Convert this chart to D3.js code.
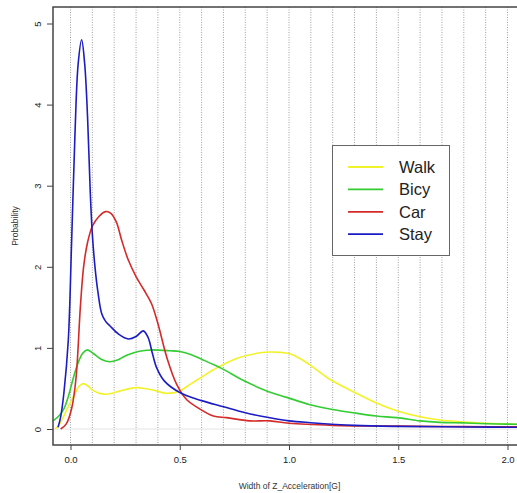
<!DOCTYPE html>
<html><head><meta charset="utf-8">
<script src="https://cdn.jsdelivr.net/npm/d3@7/dist/d3.min.js"></script>
<style>html,body{margin:0;padding:0;background:#fff;}svg{display:block;font-family:"Liberation Sans",Arial,sans-serif;}</style>
</head><body><svg id="c" width="517" height="493"></svg>
<script>
// ---- data ----
const seriesNames = ["Walk", "Bicy", "Car", "Stay"];
const seriesColors = ["#f2f22a", "#33cc33", "#d42a2a", "#1c1cc4"];

const walkX = [-0.07,-0.05,-0.025,0.0,0.021,0.04,0.059,0.08,0.1,0.15,0.19,0.227,0.303,0.34,0.379,0.44,0.5,0.547,0.6,0.654,0.76,0.867,0.913,0.96,1.0,1.05,1.096,1.188,1.294,1.4,1.493,1.6,1.69,1.8,1.9,2.0,2.1];
const walkY = [0.0,0.06,0.19,0.33,0.44,0.53,0.56,0.53,0.48,0.43,0.44,0.47,0.51,0.5,0.48,0.44,0.47,0.55,0.64,0.73,0.87,0.94,0.95,0.945,0.93,0.87,0.79,0.61,0.46,0.32,0.225,0.15,0.11,0.085,0.07,0.06,0.055];

const bicyX = [-0.08,-0.05,-0.03,-0.01,0.01,0.03,0.055,0.076,0.1,0.14,0.178,0.215,0.25,0.29,0.33,0.37,0.455,0.5,0.55,0.6,0.65,0.70,0.79,0.898,0.99,1.096,1.2,1.294,1.4,1.493,1.6,1.69,1.8,1.905,2.0,2.1];
const bicyY = [0.1,0.17,0.25,0.4,0.6,0.78,0.93,0.975,0.94,0.86,0.83,0.85,0.9,0.94,0.965,0.975,0.965,0.955,0.92,0.86,0.8,0.735,0.6,0.47,0.39,0.3,0.24,0.2,0.16,0.14,0.1,0.082,0.075,0.065,0.06,0.055];

const carX = [-0.045,-0.02,0.005,0.025,0.045,0.06,0.078,0.1,0.13,0.16,0.185,0.21,0.235,0.265,0.3,0.335,0.37,0.40,0.44,0.486,0.532,0.578,0.654,0.715,0.82,0.913,1.0,1.2,1.5,1.8,2.1];
const carY = [0.0,0.06,0.25,0.62,1.5,2.0,2.3,2.5,2.62,2.68,2.66,2.55,2.32,2.08,1.88,1.72,1.55,1.3,0.89,0.55,0.36,0.27,0.16,0.14,0.1,0.1,0.07,0.045,0.035,0.03,0.025];

const stayX = [-0.057,-0.045,-0.03,-0.01,0.005,0.02,0.035,0.051,0.065,0.078,0.09,0.1,0.112,0.125,0.143,0.16,0.181,0.22,0.265,0.3,0.333,0.355,0.375,0.395,0.43,0.5,0.6,0.7,0.8,0.9,1.0,1.1,1.3,1.5,1.8,2.1];
const stayY = [0.02,0.15,0.45,1.1,2.3,3.6,4.5,4.8,4.5,3.85,2.95,2.4,2.0,1.7,1.42,1.33,1.27,1.17,1.11,1.14,1.21,1.13,0.93,0.75,0.59,0.45,0.35,0.275,0.2,0.144,0.1,0.078,0.045,0.032,0.025,0.02];

const xTicks = [0, 0.5, 1, 1.5, 2];
const yTicks = [0, 1, 2, 3, 4, 5];
const gridX = d3.range(0, 22).map(i => i / 10);
const xLabel = "Width of Z_Acceleration[G]";
const yLabel = "Probability";

// ---- layout ----
const svg = d3.select("#c");
const L = 53, T = 7, B = 445, R = 530;
const x = d3.scaleLinear().domain([0, 2]).range([70.5, 507.5]);
const y = d3.scaleLinear().domain([0, 5]).range([429, 23.5]);

svg.append("defs").append("clipPath").attr("id", "clip")
  .append("rect").attr("x", L).attr("y", T).attr("width", R - L).attr("height", B - T);

const plot = svg.append("g").attr("clip-path", "url(#clip)");

// grid
plot.selectAll("line.gx").data(gridX).enter().append("line")
  .attr("x1", d => x(d)).attr("x2", d => x(d)).attr("y1", T).attr("y2", B)
  .attr("stroke", "#a0a0a0").attr("stroke-width", 1).attr("stroke-dasharray", "1,1.5");
plot.append("line").attr("x1", L).attr("x2", R).attr("y1", y(0)).attr("y2", y(0))
  .attr("stroke", "#e4e4e4").attr("stroke-width", 1);

// curves
const line = d3.line().x(d => x(d[0])).y(d => y(d[1])).curve(d3.curveCatmullRom.alpha(0.5));
const series = [[walkX, walkY], [bicyX, bicyY], [carX, carY], [stayX, stayY]];
series.forEach((s, i) => {
  const pts = s[0].map((v, j) => [v, s[1][j]]);
  plot.append("path").datum(pts).attr("d", line).attr("fill", "none")
    .attr("stroke", seriesColors[i]).attr("stroke-width", 1.6).attr("stroke-linejoin", "round");
});

// box
svg.append("path").attr("d", `M${R},${T}H${L}V${B}H${R}`).attr("fill", "none")
  .attr("stroke", "#444").attr("stroke-width", 1.5);

// axes
const xa = svg.append("g").attr("transform", `translate(0,${B})`)
  .call(d3.axisBottom(x).tickValues(xTicks).tickFormat(d3.format(".1f")).tickSize(5).tickPadding(6));
xa.select(".domain").remove();
xa.selectAll("line").attr("stroke", "#444");
xa.selectAll("text").attr("font-size", 9.5).attr("fill", "#222").attr("font-family", "Liberation Sans, Arial, sans-serif");

const ya = svg.append("g").attr("transform", `translate(${L},0)`)
  .call(d3.axisLeft(y).tickValues(yTicks).tickFormat(d3.format("d")).tickSize(6));
ya.select(".domain").remove();
ya.selectAll("line").attr("stroke", "#444");
ya.selectAll("text").attr("font-size", 9.5).attr("fill", "#222").attr("font-family", "Liberation Sans, Arial, sans-serif")
  .attr("x", null).attr("text-anchor", "middle")
  .attr("transform", "translate(-15,0) rotate(-90)").attr("dy", "0.35em");

svg.append("text").attr("x", (L + R) / 2 - 2).attr("y", 489).attr("text-anchor", "middle")
  .attr("font-size", 8.5).attr("fill", "#333").text(xLabel);
svg.append("text").attr("transform", `translate(18,${(T + B) / 2}) rotate(-90)`).attr("text-anchor", "middle")
  .attr("font-size", 8.5).attr("fill", "#333").text(yLabel);

// legend
const lg = svg.append("g");
lg.append("rect").attr("x", 332.5).attr("y", 145.5).attr("width", 117).attr("height", 110)
  .attr("fill", "#fff").attr("stroke", "#666").attr("stroke-width", 1);
seriesNames.forEach((n, i) => {
  const cy = 167 + i * 22.4;
  lg.append("line").attr("x1", 348).attr("x2", 383).attr("y1", cy).attr("y2", cy)
    .attr("stroke", seriesColors[i]).attr("stroke-width", 1.8);
  lg.append("text").attr("x", 399).attr("y", cy + 6).attr("font-size", 16.5).attr("fill", "#222").text(n);
});
</script></body></html>
